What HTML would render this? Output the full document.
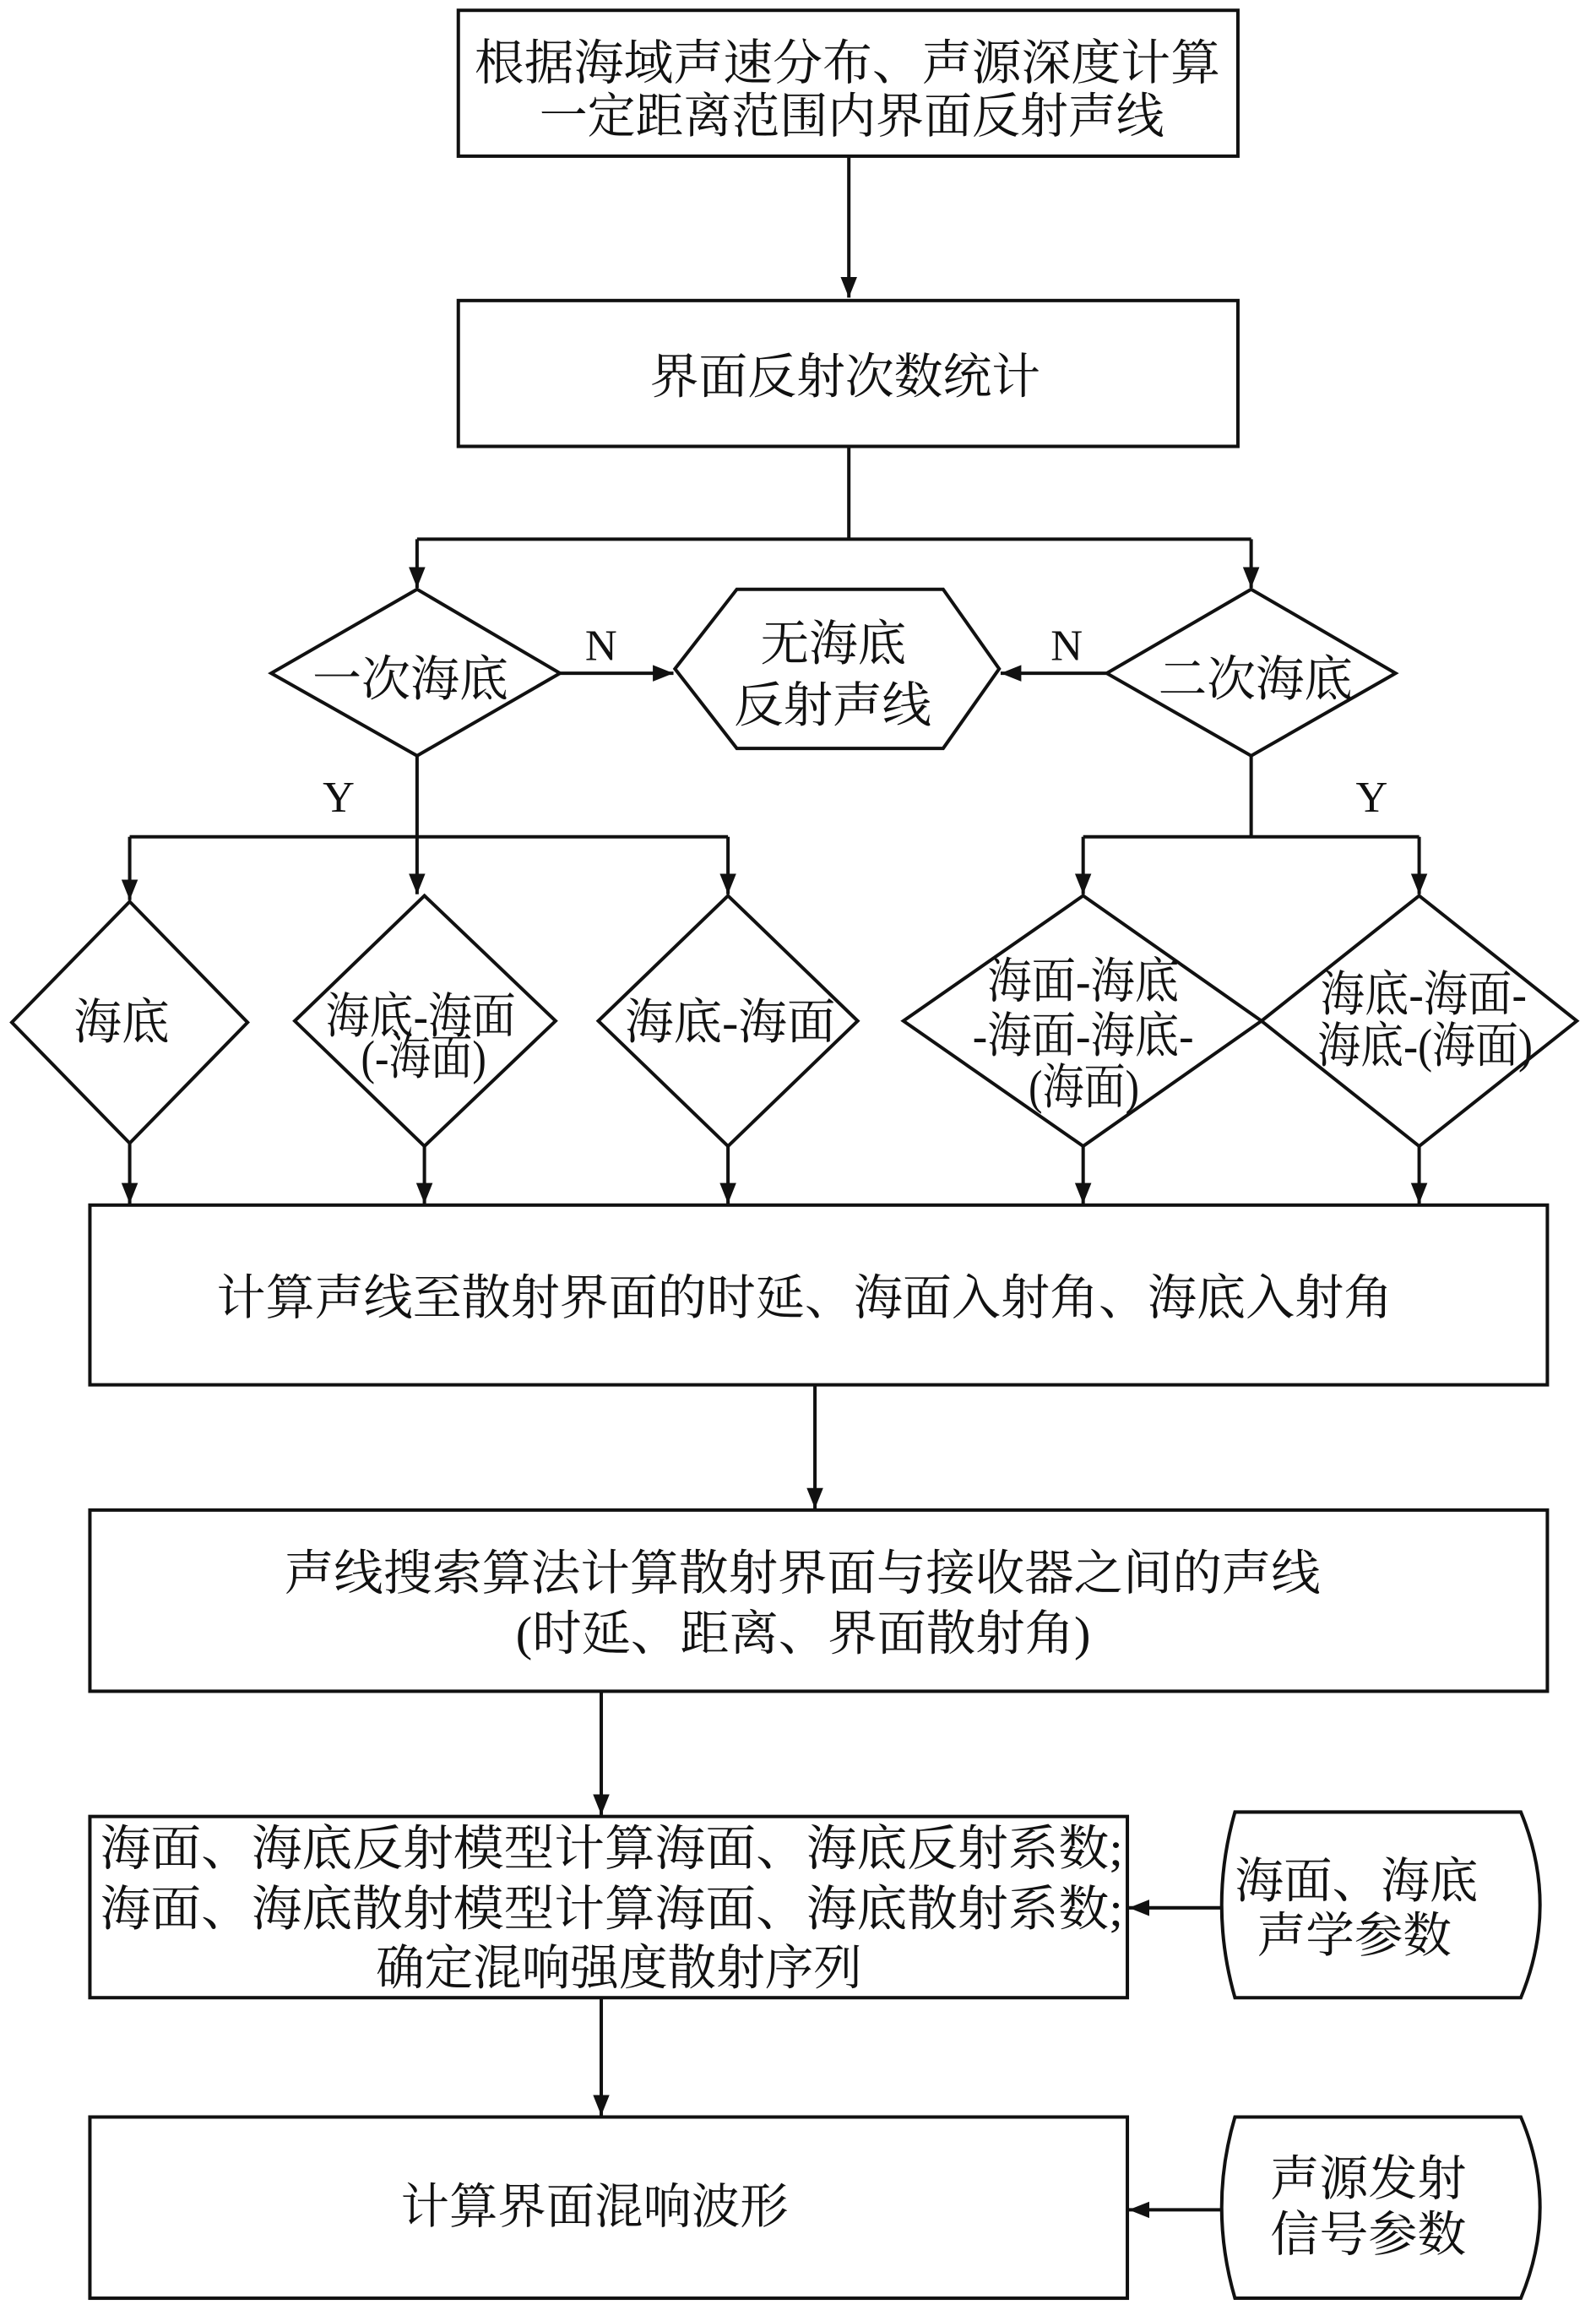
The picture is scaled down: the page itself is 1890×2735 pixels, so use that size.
<!DOCTYPE html>
<html><head><meta charset="utf-8">
<style>
html,body{margin:0;padding:0;background:#fff;}
svg{display:block;}
text{font-family:"Liberation Serif","Noto Serif CJK SC",serif;fill:#111;}
</style></head>
<body>
<svg width="1890" height="2735" viewBox="0 0 1083 1568" preserveAspectRatio="none" xmlns="http://www.w3.org/2000/svg">
<defs>
<marker id="a" viewBox="0 0 10 10" refX="10" refY="5" markerWidth="6" markerHeight="6" orient="auto" markerUnits="userSpaceOnUse">
<path d="M0,0 L10,5 L0,10 Z" fill="#111"/></marker>
<marker id="b" viewBox="0 0 10 10" refX="10" refY="5" markerWidth="14" markerHeight="14" orient="auto" markerUnits="userSpaceOnUse">
<path d="M0,1 L10,5 L0,9 Z" fill="#111"/></marker>
</defs>
<g fill="none" stroke="#111" stroke-width="2.3">
<rect x="311" y="7" width="529" height="99"/>
<rect x="311" y="204" width="529" height="99"/>
<polygon points="283,400 380,457 283,513 184,457"/>
<polygon points="849,400 947,457 849,513 751,457"/>
<polygon points="500,400 640,400 678,454 640,508 500,508 458,454"/>
<polygon points="88,612 168,694 88,776 8,694"/>
<polygon points="288,608 377,693 288,778 200,693"/>
<polygon points="494,608 582,693 494,778 406,693"/>
<polygon points="735,608 856,693 735,778 613,693"/>
<polygon points="963,608 1070,693 963,778 856,693"/>
<rect x="61" y="818" width="989" height="122"/>
<rect x="61" y="1025" width="989" height="123"/>
<rect x="61" y="1233" width="704" height="123"/>
<rect x="61" y="1437" width="704" height="123"/>
<path d="M838,1230 L1032,1230 Q1058,1293 1032,1356 L838,1356 Q820,1293 838,1230 Z"/>
<path d="M838,1437 L1032,1437 Q1058,1498 1032,1560 L838,1560 Q820,1498 838,1437 Z"/>
</g>
<g fill="none" stroke="#111" stroke-width="2.3">
<line x1="576" y1="106" x2="576" y2="202" marker-end="url(#b)"/>
<polyline points="576,303 576,366"/>
<polyline points="283,366 849,366"/>
<line x1="283" y1="366" x2="283" y2="399" marker-end="url(#b)"/>
<line x1="849" y1="366" x2="849" y2="399" marker-end="url(#b)"/>
<line x1="380" y1="457" x2="457" y2="457" marker-end="url(#b)"/>
<line x1="751" y1="457" x2="679" y2="457" marker-end="url(#b)"/>
<polyline points="283,513 283,568"/>
<polyline points="88,568 494,568"/>
<line x1="88" y1="568" x2="88" y2="611" marker-end="url(#b)"/>
<line x1="283" y1="568" x2="283" y2="607" marker-end="url(#b)"/>
<line x1="494" y1="568" x2="494" y2="607" marker-end="url(#b)"/>
<polyline points="849,513 849,568"/>
<polyline points="735,568 963,568"/>
<line x1="735" y1="568" x2="735" y2="607" marker-end="url(#b)"/>
<line x1="963" y1="568" x2="963" y2="607" marker-end="url(#b)"/>
<line x1="88" y1="776" x2="88" y2="817" marker-end="url(#b)"/>
<line x1="288" y1="778" x2="288" y2="817" marker-end="url(#b)"/>
<line x1="494" y1="778" x2="494" y2="817" marker-end="url(#b)"/>
<line x1="735" y1="778" x2="735" y2="817" marker-end="url(#b)"/>
<line x1="963" y1="778" x2="963" y2="817" marker-end="url(#b)"/>
<line x1="553" y1="940" x2="553" y2="1024" marker-end="url(#b)"/>
<line x1="408" y1="1148" x2="408" y2="1232" marker-end="url(#b)"/>
<line x1="408" y1="1356" x2="408" y2="1436" marker-end="url(#b)"/>
<line x1="829" y1="1295" x2="766" y2="1295" marker-end="url(#b)"/>
<line x1="829" y1="1500" x2="766" y2="1500" marker-end="url(#b)"/>
</g>
<g font-size="33">
<text x="322" y="54" textLength="506" lengthAdjust="spacingAndGlyphs">根据海域声速分布、声源深度计算</text>
<text x="366" y="90" textLength="424" lengthAdjust="spacingAndGlyphs">一定距离范围内界面反射声线</text>
<text x="441" y="267" textLength="265" lengthAdjust="spacingAndGlyphs">界面反射次数统计</text>
<text x="212" y="472" textLength="133" lengthAdjust="spacingAndGlyphs">一次海底</text>
<text x="786" y="472" textLength="132" lengthAdjust="spacingAndGlyphs">二次海底</text>
<text x="516" y="448" textLength="99" lengthAdjust="spacingAndGlyphs">无海底</text>
<text x="498" y="490" textLength="134" lengthAdjust="spacingAndGlyphs">反射声线</text>
<text x="397" y="448" font-size="30">N</text>
<text x="713" y="448" font-size="30">N</text>
<text x="219" y="551" font-size="30">Y</text>
<text x="920" y="551" font-size="30">Y</text>
<text x="50" y="705" textLength="65" lengthAdjust="spacingAndGlyphs">海底</text>
<text x="221" y="701" textLength="129" lengthAdjust="spacingAndGlyphs">海底-海面</text>
<text x="245" y="729" textLength="85" lengthAdjust="spacingAndGlyphs">(-海面)</text>
<text x="424" y="705" textLength="143" lengthAdjust="spacingAndGlyphs">海底-海面</text>
<text x="670" y="677" textLength="130" lengthAdjust="spacingAndGlyphs">海面-海底</text>
<text x="660" y="714" textLength="150" lengthAdjust="spacingAndGlyphs">-海面-海底-</text>
<text x="698" y="749" textLength="75" lengthAdjust="spacingAndGlyphs">(海面)</text>
<text x="896" y="686" textLength="140" lengthAdjust="spacingAndGlyphs">海底-海面-</text>
<text x="894" y="721" textLength="146" lengthAdjust="spacingAndGlyphs">海底-(海面)</text>
<text x="147" y="892" textLength="798" lengthAdjust="spacingAndGlyphs">计算声线至散射界面的时延、海面入射角、海底入射角</text>
<text x="193" y="1079" textLength="703" lengthAdjust="spacingAndGlyphs">声线搜索算法计算散射界面与接收器之间的声线</text>
<text x="350" y="1120" textLength="390" lengthAdjust="spacingAndGlyphs">(时延、距离、界面散射角)</text>
<text x="68" y="1266" textLength="694" lengthAdjust="spacingAndGlyphs">海面、海底反射模型计算海面、海底反射系数;</text>
<text x="68" y="1307" textLength="694" lengthAdjust="spacingAndGlyphs">海面、海底散射模型计算海面、海底散射系数;</text>
<text x="255" y="1347" textLength="330" lengthAdjust="spacingAndGlyphs">确定混响强度散射序列</text>
<text x="838" y="1288" textLength="165" lengthAdjust="spacingAndGlyphs">海面、海底</text>
<text x="853" y="1325" textLength="132" lengthAdjust="spacingAndGlyphs">声学参数</text>
<text x="272" y="1509" textLength="263" lengthAdjust="spacingAndGlyphs">计算界面混响波形</text>
<text x="862" y="1490" textLength="133" lengthAdjust="spacingAndGlyphs">声源发射</text>
<text x="862" y="1528" textLength="133" lengthAdjust="spacingAndGlyphs">信号参数</text>
</g>
</svg>
</body></html>
